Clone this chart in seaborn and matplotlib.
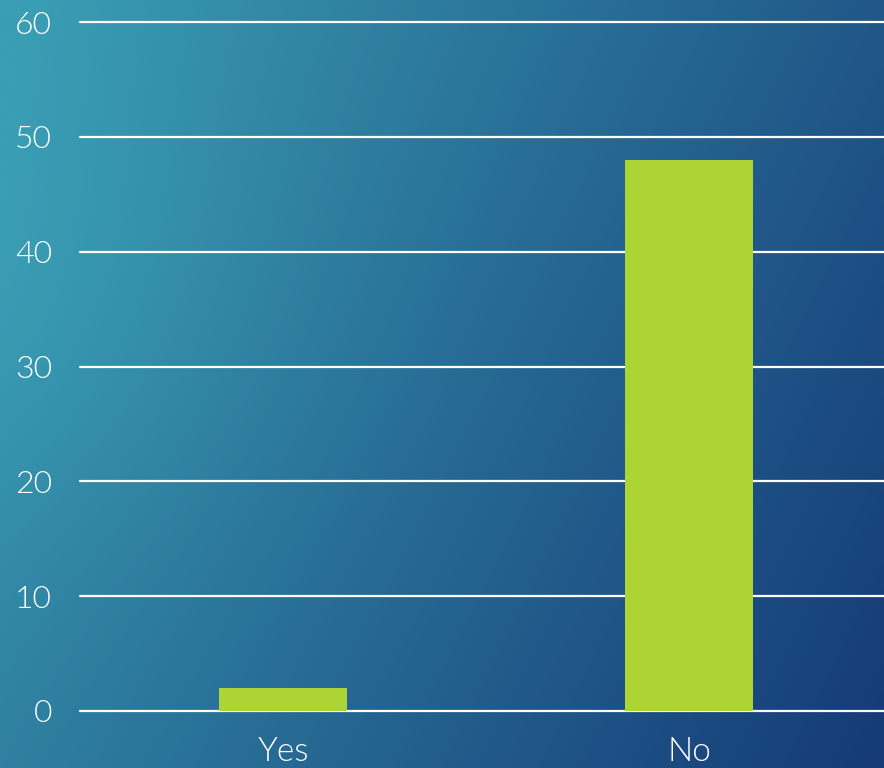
import matplotlib.pyplot as plt
import numpy as np
import pandas as pd
import seaborn as sns

# data
categories = ["Yes", "No"]
counts = [2, 48]
y_ticks = [0, 10, 20, 30, 40, 50, 60]

df = pd.DataFrame({"answer": categories, "count": counts})

sns.set_theme(style="white")
plt.rcParams["font.family"] = ["Lato", "DejaVu Sans"]
plt.rcParams["font.weight"] = 300

fig = plt.figure(figsize=(8.84, 7.68), dpi=100)

# background gradient (teal left -> deep blue bottom-right)
bg = fig.add_axes([0, 0, 1, 1], zorder=0)
xx, yy = np.meshgrid(np.linspace(0, 1, 300), np.linspace(0, 1, 300))
t = 0.7 * xx + 0.3 * yy
t = t - 0.1 * np.exp(-((xx - 0.05) ** 2 + (yy - 0.4) ** 2) / 0.1)
t = np.clip(t, 0, 1)
c0 = np.array([0x3a, 0x9e, 0xb4]) / 255
c1 = np.array([0x15, 0x3a, 0x76]) / 255
img = c0[None, None, :] * (1 - t[..., None]) + c1[None, None, :] * t[..., None]
bg.imshow(img, extent=[0, 1, 0, 1], aspect="auto", origin="upper")
bg.set_axis_off()

ax = fig.add_axes([80 / 884, 57 / 768, 812 / 884, 689 / 768], zorder=1)
ax.patch.set_alpha(0)

sns.barplot(data=df, x="answer", y="count", color="#acd435", width=0.313,
            saturation=1, linewidth=0, ax=ax, zorder=3)

ax.set_ylim(0, 60)
ax.set_xlim(-0.5, 1.5)
ax.set_yticks(y_ticks)
for v in y_ticks:
    ax.axhline(v, color="white", linewidth=1.6, zorder=2, clip_on=False)

for s in ax.spines.values():
    s.set_visible(False)
ax.set_xlabel("")
ax.set_ylabel("")
ax.tick_params(axis="y", colors="white", labelsize=23, length=0, pad=20)
ax.tick_params(axis="x", colors="white", labelsize=24, length=0, pad=19)

plt.savefig("out.png", dpi=100)
